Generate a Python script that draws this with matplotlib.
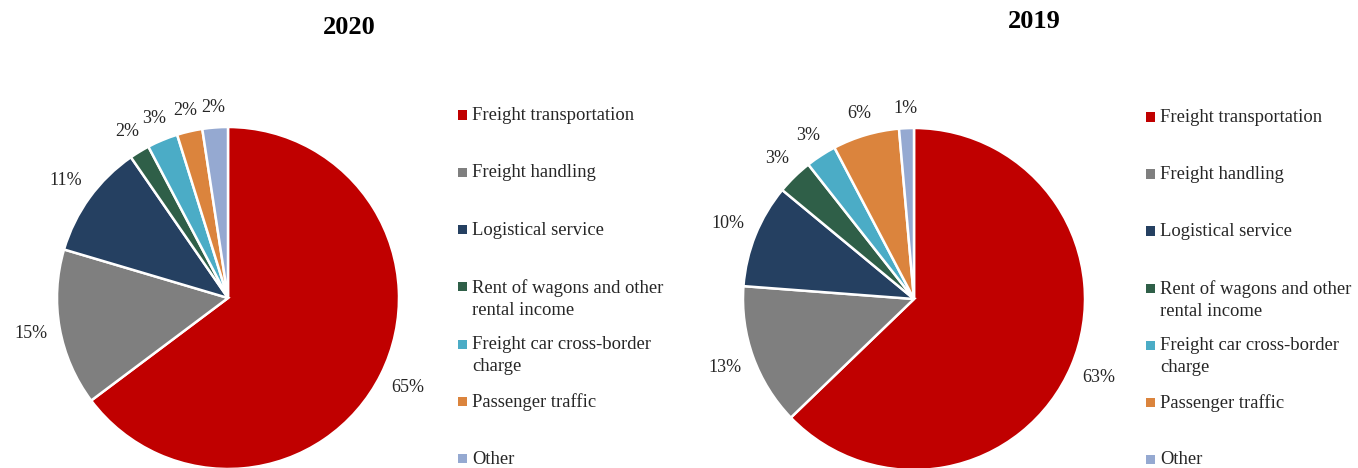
import matplotlib
matplotlib.use("Agg")
import matplotlib.pyplot as plt
from matplotlib.patches import Rectangle
import numpy as np

categories = ["Freight transportation", "Freight handling", "Logistical service",
              "Rent of wagons and other\nrental income", "Freight car cross-border\ncharge",
              "Passenger traffic", "Other"]
values_2020 = [64.7, 14.8, 10.8, 1.9, 2.9, 2.4, 2.4]
labels_2020 = ["65%", "15%", "11%", "2%", "3%", "2%", "2%"]
values_2019 = [62.8, 13.4, 9.8, 3.4, 2.9, 6.3, 1.4]
labels_2019 = ["63%", "13%", "10%", "3%", "3%", "6%", "1%"]
colors = ["#C00000", "#7F7F7F", "#254061", "#2F5F48", "#4BACC6", "#DB843D", "#95A9D1"]

W, H = 1358, 468
fig = plt.figure(figsize=(W / 100, H / 100), dpi=100)
FONT = "Liberation Serif"
TXT = "#262626"

def draw(cx, cy, r, values, labels, title, tx, ty, lx, ly0, step):
    ax = fig.add_axes([(cx - r) / W, (H - cy - r) / H, 2 * r / W, 2 * r / H])
    ax.pie(values, colors=colors, startangle=90, counterclock=False,
           wedgeprops=dict(edgecolor="white", linewidth=1.8))
    ax.set_xlim(-1, 1)
    ax.set_ylim(-1, 1)
    ax.set_aspect("equal")
    ax.axis("off")
    total = sum(values)
    start = 90.0
    for v, lab in zip(values, labels):
        ang = np.deg2rad(start - 360.0 * v / total / 2)
        start -= 360.0 * v / total
        hw = 6.0 * len(lab)
        dpx = r + 10 + hw * abs(np.cos(ang)) + 9 * abs(np.sin(ang))
        d = dpx / r
        ax.text(d * np.cos(ang), d * np.sin(ang), lab, ha="center", va="center",
                fontsize=13, family=FONT, color=TXT)
    fig.text(tx / W, 1 - ty / H, title, ha="center", va="center", fontsize=19,
             fontweight="bold", family=FONT, color="black")
    s = 9
    for i, (name, c) in enumerate(zip(categories, colors)):
        y = ly0 + i * step
        fig.patches.append(Rectangle(((lx - s / 2) / W, 1 - (y + s / 2) / H), s / W, s / H,
                                     transform=fig.transFigure, facecolor=c, edgecolor="none"))
        fig.text((lx + 10) / W, 1 - (y - 8) / H, name, ha="left", va="top", fontsize=13.4,
                 family=FONT, color=TXT, linespacing=1.4)

draw(228, 298, 171, values_2020, labels_2020, "2020", 349, 27, 462, 115, 57.3)
draw(914, 299, 171, values_2019, labels_2019, "2019", 1034, 22, 1150, 117, 57.0)

fig.savefig("out.png", dpi=100)
